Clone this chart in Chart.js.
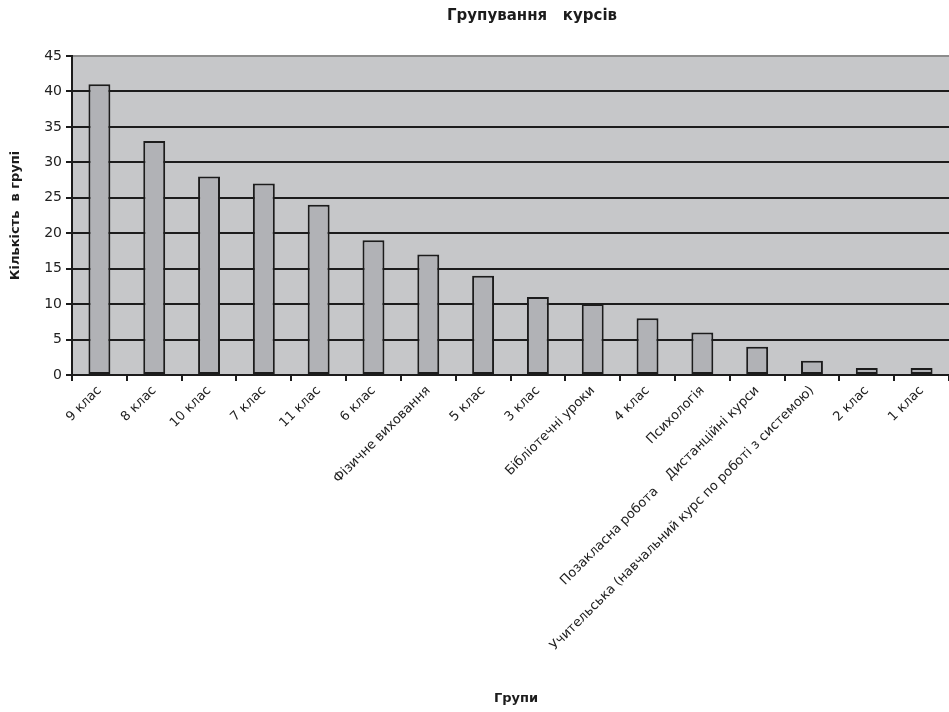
<!DOCTYPE html>
<html>
<head>
<meta charset="utf-8">
<script src="https://cdn.jsdelivr.net/npm/chart.js@4.4.1/dist/chart.umd.min.js"></script>
<style>
  html, body { margin: 0; padding: 0; background: #fff; }
  #wrap { width: 949px; height: 712px; }
</style>
</head>
<body>
<div id="wrap"><canvas id="chart" width="949" height="712"></canvas></div>
<script>
const groups = [
  "9 клас", "8 клас", "10 клас", "7 клас", "11 клас", "6 клас",
  "Фізичне виховання", "5 клас", "3 клас", "Бібліотечні уроки", "4 клас",
  "Психологія", "Позакласна робота    Дистанційні курси",
  "Учительська (навчальний курс по роботі з системою)", "2 клас", "1 клас",
];
const counts = [41, 33, 28, 27, 24, 19, 17, 14, 11, 10, 8, 6, 4, 2, 1, 1];
const yTicks = [0, 5, 10, 15, 20, 25, 30, 35, 40, 45];

const fontFamily = "'DejaVu Sans', Arial, sans-serif";
const ink = "#1c1c1c";

const backdrop = {
  id: "backdrop",
  beforeDraw(chart) {
    const { ctx, chartArea: a } = chart;
    ctx.save();
    ctx.fillStyle = "#c6c7c9";
    ctx.fillRect(a.left, a.top, a.right - a.left, a.bottom - a.top);
    ctx.restore();
  },
  afterDraw(chart) {
    const { ctx } = chart;
    ctx.save();
    ctx.fillStyle = ink;
    ctx.textAlign = "center";
    ctx.textBaseline = "middle";
    ctx.font = `bold 15px ${fontFamily}`;
    ctx.fillText("Групування   курсів", 532, 16);
    ctx.font = `bold 13px ${fontFamily}`;
    ctx.fillText("Групи", 516, 699);
    ctx.restore();
  },
};

new Chart(document.querySelector("#chart"), {
  type: "bar",
  data: {
    labels: groups,
    datasets: [{
      data: counts,
      backgroundColor: "#b1b2b6",
      borderColor: ink,
      borderWidth: 2,
      borderSkipped: false,
      barPercentage: 0.4,
      categoryPercentage: 1,
    }],
  },
  options: {
    responsive: false,
    animation: false,
    layout: { autoPadding: false, padding: { top: 56, left: 0, right: 0, bottom: 0 } },
    plugins: {
      legend: { display: false },
      title: { display: false },
      tooltip: { enabled: false },
    },
    scales: {
      x: {
        afterFit: (scale) => { scale.height = 337; },
        grid: { drawOnChartArea: false, drawTicks: true, tickLength: 6, color: ink, lineWidth: 2, offset: true },
        border: { color: ink, width: 2 },
        ticks: {
          autoSkip: false,
          maxRotation: 45,
          minRotation: 45,
          padding: 2,
          color: "#222",
          font: { family: fontFamily, size: 13 },
        },
      },
      y: {
        min: 0,
        max: 45,
        afterFit: (scale) => { scale.width = 72; },
        afterBuildTicks: (scale) => { scale.ticks = yTicks.map((value) => ({ value })); },
        grid: {
          color: (c) => (c.tick && c.tick.value === 45 ? "#8c8c8c" : ink),
          tickColor: ink,
          lineWidth: 2,
          tickLength: 6,
        },
        border: { color: ink, width: 2 },
        ticks: {
          padding: 4,
          color: "#222",
          font: { family: fontFamily, size: 14 },
        },
        title: {
          display: true,
          text: "Кількість  в групі",
          color: ink,
          padding: { top: 8, bottom: 4 },
          font: { family: fontFamily, size: 13, weight: "bold" },
        },
      },
    },
  },
  plugins: [backdrop],
});
</script>
</body>
</html>
